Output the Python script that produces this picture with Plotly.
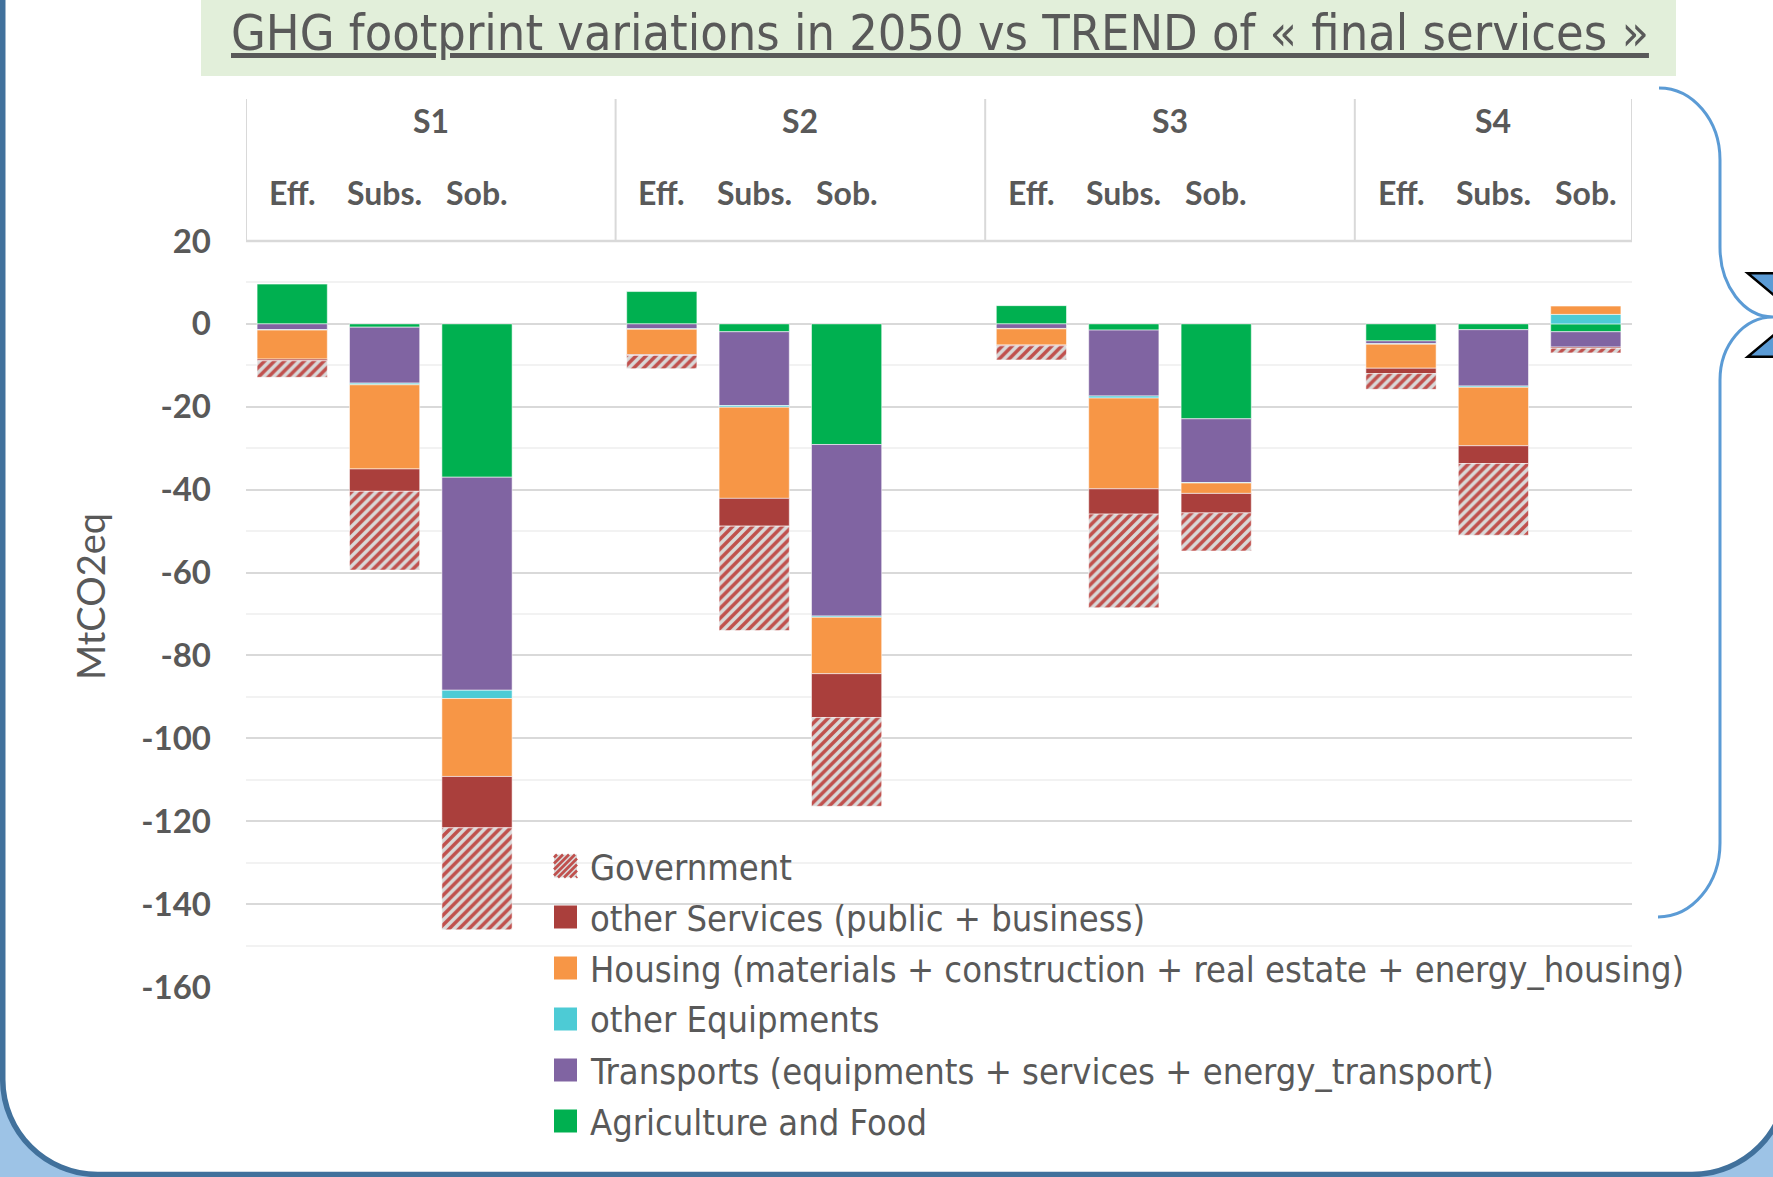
import plotly.graph_objects as go

# ---------------- data ----------------
scenarios = ["S1", "S2", "S3", "S4"]
levers = ["Eff.", "Subs.", "Sob."]

# order: S1 Eff, S1 Subs, S1 Sob, S2 Eff, ..., S4 Sob   (MtCO2eq)
agriculture = [9.6, -0.8, -37.0, 7.8, -1.9, -29.1, 4.4, -1.5, -22.9, -4.1, -1.4, -1.9]
transports = [-1.4, -13.5, -51.4, -1.2, -17.8, -41.4, -1.1, -15.9, -15.4, -0.7, -13.6, -3.7]
other_equipments = [-0.1, -0.4, -2.0, -0.1, -0.4, -0.3, -0.1, -0.5, -0.1, -0.1, -0.3, 2.3]
housing = [-7.0, -20.3, -18.8, -6.1, -22.0, -13.6, -3.9, -21.9, -2.5, -5.8, -14.1, 2.0]
other_services = [-0.4, -5.4, -12.4, -0.2, -6.7, -10.6, -0.2, -6.1, -4.7, -1.3, -4.3, -0.3]
government = [-4.0, -19.0, -24.6, -3.2, -25.2, -21.4, -3.4, -22.6, -9.2, -3.8, -17.3, -1.1]

series_names = [
    "Agriculture and Food",
    "Transports (equipments + services + energy_transport)",
    "other Equipments",
    "Housing (materials + construction + real estate + energy_housing)",
    "other Services (public + business)",
    "Government",
]
y_tick_values = [20, 0, -20, -40, -60, -80, -100, -120, -140, -160]
y_tick_labels = ["20", "0", "-20", "-40", "-60", "-80", "-100", "-120", "-140", "-160"]
title_text = "GHG footprint variations in 2050 vs TREND of « final services »"
y_title = "MtCO2eq"

# ---------------- geometry ----------------
W_FIG, H_FIG = 1773, 1177
M_L, M_R, M_T, M_B = 246, 141, 241, 190
PW = W_FIG - M_L - M_R
PH = H_FIG - M_T - M_B

GRAY = "#595959"
NARROW = "DejaVu Sans Condensed, DejaVu Sans, sans-serif"
SANS = "Lato, Open Sans, sans-serif"


def fx(X):
    return (X - M_L) / PW


def fy(Y):
    return (H_FIG - M_B - Y) / PH


def P(X, Y):
    return f"{fx(X):.5f},{fy(Y):.5f}"


# x positions: three bars per scenario, one empty slot between scenarios
x_pos = [g * 4 + j for g in range(len(scenarios)) for j in range(len(levers))]
cat_labels = [f"{s} {l}" for s in scenarios for l in levers]
group_bounds = [-0.5] + [g * 4 + 3.5 for g in range(len(scenarios) - 1)] + [(len(scenarios) - 1) * 4 + 2.5]

colors = ["#00B050", "#8064A2", "#4DCBD5", "#F79646", "#AA3F3C", "#C0504D"]
values = [agriculture, transports, other_equipments, housing, other_services, government]
HATCH_FG, HATCH_BG = "#C0504D", "#D9D9D9"

fig = go.Figure()
for name, vals, col in zip(series_names, values, colors):
    marker = dict(color=col, line=dict(width=1, color="rgba(255,255,255,0.55)"))
    if name == "Government":
        marker["pattern"] = dict(shape="/", fgcolor=HATCH_FG, bgcolor=HATCH_BG,
                                 size=7, solidity=0.5, fillmode="replace")
    fig.add_trace(go.Bar(x=x_pos, y=vals, name=name, marker=marker, showlegend=False,
                         customdata=cat_labels,
                         hovertemplate="%{customdata}: %{y}<extra>" + name + "</extra>"))

shapes = []
annotations = []
k = 0.5523
# outer rounded frame
x0, x1, y0, y1, r = 2.75, 1787, -20, 1174.5, 95
frame = (f"M {P(x0, y0)} L {P(x0, y1 - r)} C {P(x0, y1 - r + k * r)} {P(x0 + r - k * r, y1)} {P(x0 + r, y1)} "
         f"L {P(x1 - r, y1)} C {P(x1 - r + k * r, y1)} {P(x1, y1 - r + k * r)} {P(x1, y1 - r)} L {P(x1, y0)} Z")
shapes.append(dict(type="path", path=frame, xref="paper", yref="paper", fillcolor="white",
                   line=dict(color="#41719C", width=5.5), layer="below"))
# title box
shapes.append(dict(type="rect", xref="paper", yref="paper", x0=fx(201), x1=fx(1676), y0=fy(76), y1=fy(-5),
                   fillcolor="#E2EFDA", line=dict(width=0), layer="below"))
# header box
for xb in group_bounds:
    shapes.append(dict(type="line", xref="x", yref="paper", x0=xb, x1=xb, y0=1, y1=fy(99),
                       line=dict(color="#D9D9D9", width=2)))
shapes.append(dict(type="line", xref="paper", yref="paper", x0=0, x1=1, y0=1, y1=1,
                   line=dict(color="#D9D9D9", width=2.5)))
# brace
brace = (f"M {P(1659, 88)} C {P(1659 + 61 * k, 88)} {P(1720, 160 - 72 * k)} {P(1720, 160)} "
         f"L {P(1720, 247)} C {P(1720, 247 + 70 * k)} {P(1773 - 53 * k, 317)} {P(1773, 317)} "
         f"C {P(1773 - 53 * k, 317)} {P(1720, 380 - 63 * k)} {P(1720, 380)} "
         f"L {P(1720, 843)} C {P(1720, 843 + 74 * k)} {P(1658 + 62 * k, 917)} {P(1658, 917)}")
shapes.append(dict(type="path", path=brace, xref="paper", yref="paper",
                   line=dict(color="#5B9BD5", width=3), fillcolor="rgba(0,0,0,0)"))
# triangles
for ya, yb in [(273.3, 297.0), (356.7, 333.0)]:
    shapes.append(dict(type="path", xref="paper", yref="paper",
                       path=f"M {P(1747.7, ya)} L {P(1776, ya)} L {P(1776, yb)} Z",
                       fillcolor="#5B9BD5", line=dict(color="black", width=2.5)))

# ---------------- legend (drawn as swatches + text) ----------------
LEG_X, LEG_Y0, LEG_DY, SW = 554, 866, 51, 23
for i, (name, col) in enumerate(reversed(list(zip(series_names, colors)))):
    yc = LEG_Y0 + i * LEG_DY
    sx0, sy0 = LEG_X, yc - SW / 2
    if name == "Government":
        shapes.append(dict(type="rect", xref="paper", yref="paper", x0=fx(sx0), x1=fx(sx0 + SW),
                           y0=fy(sy0 + SW), y1=fy(sy0), fillcolor=HATCH_BG, line=dict(width=0)))
        segs = []
        c = sx0 + sy0 + 3
        while c < sx0 + sy0 + 2 * SW:
            xa = max(sx0, c - (sy0 + SW))
            xb_ = min(sx0 + SW, c - sy0)
            if xb_ > xa:
                segs.append(f"M {P(xa, c - xa)} L {P(xb_, c - xb_)}")
            c += 6
        shapes.append(dict(type="path", xref="paper", yref="paper", path=" ".join(segs),
                           line=dict(color=HATCH_FG, width=2.6)))
    else:
        shapes.append(dict(type="rect", xref="paper", yref="paper", x0=fx(sx0), x1=fx(sx0 + SW),
                           y0=fy(sy0 + SW), y1=fy(sy0), fillcolor=col, line=dict(width=0)))
    annotations.append(dict(text=name, xref="paper", yref="paper", x=fx(588), y=fy(yc + 1),
                            xanchor="left", yanchor="middle", showarrow=False,
                            font=dict(family=NARROW, size=36, color=GRAY)))

# ---------------- texts ----------------
annotations.append(dict(text=f"<u>{title_text}</u>", xref="paper", yref="paper", x=fx(940), y=fy(33),
                        xanchor="center", yanchor="middle", showarrow=False,
                        font=dict(family=NARROW, size=50, color=GRAY)))
for g, s in enumerate(scenarios):
    xc = (group_bounds[g] + group_bounds[g + 1]) / 2
    annotations.append(dict(text=s, xref="x", yref="paper", x=xc, y=fy(121), showarrow=False,
                            xanchor="center", yanchor="middle",
                            font=dict(family=SANS, size=32, color=GRAY, weight="bold")))
for xp, lab in zip(x_pos, [l for s in scenarios for l in levers]):
    annotations.append(dict(text=lab, xref="x", yref="paper", x=xp, y=fy(193), showarrow=False,
                            xanchor="center", yanchor="middle",
                            font=dict(family=SANS, size=32, color=GRAY, weight="bold")))
annotations.append(dict(text=y_title, xref="paper", yref="paper", x=fx(90), y=fy(597), textangle=-90,
                        showarrow=False, xanchor="center", yanchor="middle",
                        font=dict(family=SANS, size=38, color=GRAY)))

fig.update_layout(
    width=W_FIG, height=H_FIG,
    margin=dict(l=M_L, r=M_R, t=M_T, b=M_B, autoexpand=False),
    paper_bgcolor="#9DC3E6", plot_bgcolor="rgba(0,0,0,0)",
    barmode="relative", bargap=0.24,
    showlegend=False,
    xaxis=dict(range=[-0.5, 14.5], showticklabels=False, showgrid=False, zeroline=False,
               ticks="", fixedrange=True),
    yaxis=dict(range=[-160, 20], tickvals=y_tick_values, ticktext=y_tick_labels,
               showgrid=True, gridcolor="#D9D9D9", gridwidth=2,
               zeroline=False, ticks="", ticklabelstandoff=34,
               tickfont=dict(family=SANS, size=33, color=GRAY, weight="bold"),
               minor=dict(dtick=10, showgrid=True, gridcolor="#F2F2F2", gridwidth=2)),
    shapes=shapes, annotations=annotations,
)

fig.write_html("out.html", config={"displayModeBar": False},
               post_script="document.body.style.margin='0px';document.body.style.overflow='hidden';")
